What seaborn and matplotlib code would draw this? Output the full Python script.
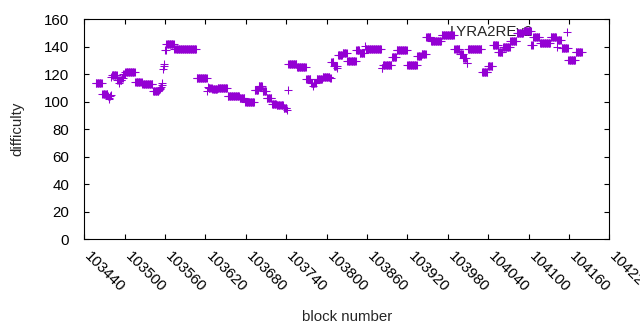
import numpy as np
import matplotlib
matplotlib.use("Agg")
import matplotlib.pyplot as plt
import seaborn as sns

# ─── DATA (difficulty steps) ──────────────────────────────────────────────────
# block where each difficulty step begins, and the difficulty from that block on
seg_start = [103457, 103467, 103475, 103476, 103477, 103478, 103479, 103480,
             103481, 103489, 103492, 103493, 103496, 103498, 103501, 103516,
             103526, 103542, 103551, 103552, 103553, 103554, 103555, 103556,
             103557, 103558, 103559, 103560, 103562, 103574, 103607, 103623,
             103624, 103625, 103630, 103638, 103653, 103671, 103679, 103693,
             103699, 103705, 103711, 103719, 103726, 103736, 103741, 103742,
             103743, 103756, 103770, 103777, 103780, 103781, 103785, 103794,
             103805, 103807, 103811, 103816, 103817, 103824, 103831, 103844,
             103849, 103857, 103858, 103882, 103884, 103897, 103904, 103920,
             103935, 103941, 103948, 103955, 103971, 103990, 103998, 104003,
             104008, 104010, 104031, 104040, 104047, 104055, 104062, 104073,
             104083, 104093, 104104, 104107, 104117, 104133, 104142, 104143,
             104144, 104149, 104159, 104170]
seg_diff = [113.5, 105.5, 104.0, 103.0, 102.0, 104.0, 105.0, 118.0,
            119.3, 115.5, 113.4, 115.5, 117.0, 120.0, 121.5, 114.2,
            112.7, 107.6, 108.6, 109.0, 110.0, 111.0, 112.0, 113.4,
            124.0, 126.0, 127.5, 137.7, 141.8, 138.2, 117.1, 107.5,
            110.5, 110.0, 109.0, 110.0, 104.4, 103.0, 99.6, 108.6,
            111.3, 107.5, 102.5, 98.6, 97.4, 95.3, 94.0, 108.6,
            127.3, 125.6, 116.6, 113.4, 111.5, 113.4, 116.4, 118.3,
            117.0, 128.7, 125.8, 124.4, 133.8, 135.3, 129.5, 137.7,
            135.3, 140.8, 138.4, 124.8, 126.5, 132.4, 137.4, 126.5,
            133.0, 134.8, 146.9, 144.0, 148.8, 138.2, 134.5, 132.0,
            128.4, 138.2, 121.7, 126.3, 141.0, 136.2, 139.8, 144.0,
            150.0, 151.5, 141.0, 146.9, 142.5, 146.9, 145.0, 139.8,
            145.0, 138.9, 130.2, 136.0]
last_block = 104179
coin = "LYRA2REv2"

x_ticks = list(range(103440, 104221, 60))
y_ticks = list(range(0, 161, 20))

# one value per block
blocks = np.arange(seg_start[0], last_block + 1)
idx = np.searchsorted(seg_start, blocks, side="right") - 1
difficulty = np.asarray(seg_diff)[idx]

# ─── STYLE ────────────────────────────────────────────────────────────────────
sns.set_style("ticks")
plt.rcParams["font.family"] = ["Liberation Sans", "DejaVu Sans"]
plt.rcParams.update({
    "font.size": 10.8,
    "axes.linewidth": 0.8,
    "axes.edgecolor": "black",
    "xtick.direction": "in",
    "ytick.direction": "in",
    "xtick.top": True,
    "ytick.right": True,
    "xtick.major.size": 3.5,
    "ytick.major.size": 3.5,
    "xtick.major.width": 0.8,
    "ytick.major.width": 0.8,
    "xtick.color": "black",
    "ytick.color": "black",
})

fig = plt.figure(figsize=(6.4, 3.3), dpi=100)
ax = fig.add_axes([84.3 / 640, 90.7 / 330, 525 / 640, 220 / 330])

sns.scatterplot(x=blocks, y=difficulty, marker="+", color="#9400d3",
                s=26, linewidth=0.75, label=coin, ax=ax, zorder=3)

ax.set_xlim(103440, 104220)
ax.set_ylim(0, 160)
ax.set_xticks(x_ticks)
ax.set_yticks(y_ticks)
ax.set_xticklabels([str(t) for t in x_ticks], rotation=-45, ha="left",
                   va="baseline", rotation_mode="anchor")
ax.tick_params(axis="x", pad=13)
ax.tick_params(axis="y", pad=11)
ax.set_xlabel("block number")
ax.xaxis.set_label_coords(0.5, -0.32)
ax.set_ylabel("difficulty", labelpad=14)

leg = ax.legend(loc="center right", bbox_to_anchor=(0.948, 0.9445),
                frameon=False, markerfirst=False, borderpad=0,
                borderaxespad=0, handletextpad=1.27, handlelength=2.0)
leg.set_zorder(2)

fig.savefig("out.png", dpi=100)
